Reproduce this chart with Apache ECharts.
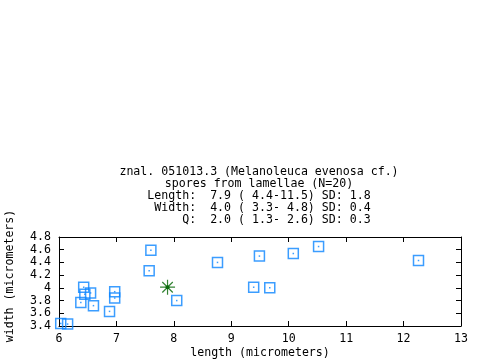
<!DOCTYPE html>
<html>
<head>
<meta charset="utf-8">
<script src="https://cdn.jsdelivr.net/npm/echarts@6/dist/echarts.min.js"></script>
<style>html,body{margin:0;padding:0;background:#fff}#c{width:480px;height:360px}</style>
</head>
<body>
<div id="c"></div>
<script>
var titleLines = [
  "znal. 051013.3 (Melanoleuca evenosa cf.)",
  "spores from lamellae (N=20)",
  "Length:  7.9 ( 4.4-11.5) SD: 1.8",
  " Width:  4.0 ( 3.3- 4.8) SD: 0.4",
  "     Q:  2.0 ( 1.3- 2.6) SD: 0.3"
];
var xName = "length (micrometers)";
var yName = "width (micrometers)";
var lengths = [6.03, 6.15, 6.38, 6.43, 6.45, 6.55, 6.60, 6.88, 6.97, 6.97, 7.57, 7.60, 8.05, 8.76, 9.49, 9.39, 9.67, 10.08, 10.52, 12.26];
var widths  = [3.44, 3.43, 3.77, 4.01, 3.90, 3.92, 3.72, 3.63, 3.94, 3.84, 4.27, 4.59, 3.80, 4.40, 4.50, 4.01, 4.00, 4.54, 4.65, 4.43];
var meanPoint = [7.89, 4.01];
var xMin = 6, xMax = 13, xStep = 1;
var yMin = 3.4, yMax = 4.8, yStep = 0.2;

var pts = lengths.map(function (v, i) { return [v, widths[i]]; });
var fs = 11.6;
var font = fs + 'px "DejaVu Sans Mono", monospace';
var blue = '#0a84ff';
var green = '#006400';

var chart = echarts.init(document.getElementById('c'), null, {renderer: 'canvas'});
var axisCommon = {
  axisLine: {show: true, onZero: false, lineStyle: {color: '#000', width: 1}},
  axisTick: {show: true, inside: true, length: 5, lineStyle: {color: '#000'}},
  splitLine: {show: false}
};
chart.setOption({
  animation: false,
  grid: {left: 59, right: 19, top: 237, bottom: 34},
  xAxis: [
    Object.assign({type: 'value', min: xMin, max: xMax, interval: xStep, position: 'bottom',
      axisLabel: {color: '#000', fontFamily: 'DejaVu Sans Mono', fontSize: fs, margin: 7}}, axisCommon),
    Object.assign({type: 'value', min: xMin, max: xMax, interval: xStep, position: 'top',
      axisLabel: {show: false}}, axisCommon)
  ],
  yAxis: [
    Object.assign({type: 'value', min: yMin, max: yMax, interval: yStep, position: 'left',
      axisLabel: {color: '#000', fontFamily: 'DejaVu Sans Mono', fontSize: fs, margin: 8}}, axisCommon),
    Object.assign({type: 'value', min: yMin, max: yMax, interval: yStep, position: 'right',
      axisLabel: {show: false}}, axisCommon)
  ],
  series: [
    {type: 'scatter', data: pts, symbol: 'rect', symbolSize: 10,
     itemStyle: {color: 'rgba(0,0,0,0)', borderColor: blue, borderWidth: 1.5}},
    {type: 'scatter', data: pts, symbol: 'rect', symbolSize: 1.5,
     itemStyle: {color: blue}},
    {type: 'scatter', data: [meanPoint], symbolSize: 15,
     symbol: 'path://M10,0L10,20M0,10L20,10M3,3L17,17M3,17L17,3',
     itemStyle: {color: 'rgba(0,0,0,0)', borderColor: green, borderWidth: 1.2}},
    {type: 'scatter', data: [meanPoint], symbol: 'circle', symbolSize: 4,
     itemStyle: {color: green}}
  ],
  graphic: [
    {type: 'text', x: 259, y: 166, style: {text: titleLines.join('\n'), font: font,
      textAlign: 'center', textVerticalAlign: 'top', lineHeight: 12, fill: '#000'}},
    {type: 'text', x: 260, y: 353, style: {text: xName, font: font,
      textAlign: 'center', textVerticalAlign: 'middle', fill: '#000'}},
    {type: 'text', x: 10, y: 276, rotation: Math.PI / 2, style: {text: yName, font: font,
      textAlign: 'center', textVerticalAlign: 'middle', fill: '#000'}}
  ]
});
</script>
</body>
</html>
